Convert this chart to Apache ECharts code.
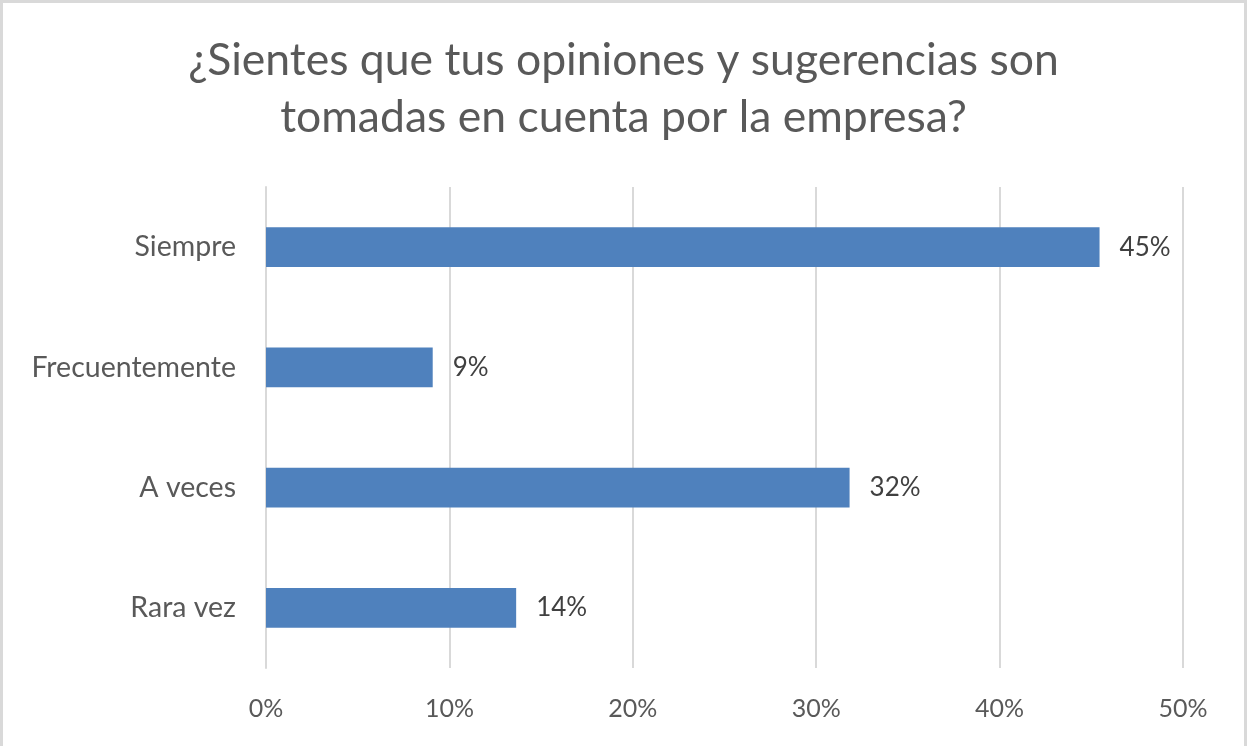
<!DOCTYPE html>
<html><head><meta charset="utf-8">
<script src="https://cdn.jsdelivr.net/npm/echarts@6/dist/echarts.min.js"></script>
<style>html,body{margin:0;padding:0;background:#fff}#c{width:1247px;height:746px;box-sizing:border-box;border:3px solid #d9d9d9;border-bottom:none}</style>
</head><body><div id="c"></div>
<script>
const categories = ['Siempre', 'Frecuentemente', 'A veces', 'Rara vez'];
const values = [45.45, 9.09, 31.82, 13.64];
const tickLabels = ['0%', '10%', '20%', '30%', '40%', '50%'];
const titleText = '¿Sientes que tus opiniones y sugerencias son\ntomadas en cuenta por la empresa?';

const chart = echarts.init(document.getElementById('c'));
const font = 'Lato, "Open Sans", sans-serif';
chart.setOption({
  animation: false,
  title: {
    text: titleText, left: 'center', top: 24,
    textStyle: { fontFamily: font, fontSize: 44.5, fontWeight: 'normal', color: '#595959', lineHeight: 57 }
  },
  grid: { left: 263, right: 61, top: 184, bottom: 78, containLabel: false },
  xAxis: {
    type: 'value', min: 0, max: 50, interval: 10,
    axisLine: { show: false }, axisTick: { show: false },
    splitLine: { lineStyle: { color: '#d9d9d9', width: 2 } },
    axisLabel: { margin: 28, fontFamily: font, fontSize: 25, color: '#595959',
      formatter: v => tickLabels[Math.round(v / 10)] }
  },
  yAxis: {
    type: 'category', inverse: true, data: categories,
    axisLine: { show: true, lineStyle: { color: '#d9d9d9', width: 2 } },
    axisTick: { show: false },
    axisLabel: { margin: 30, fontFamily: font, fontSize: 28.5, color: '#595959' }
  },
  series: [{
    type: 'bar', data: values, barCategoryGap: '67%',
    itemStyle: { color: '#4f81bd' },
    label: { show: true, position: 'right', distance: 20, fontFamily: font, fontSize: 26, color: '#404040',
      formatter: p => Math.round(p.value) + '%' }
  }]
});
</script></body></html>
